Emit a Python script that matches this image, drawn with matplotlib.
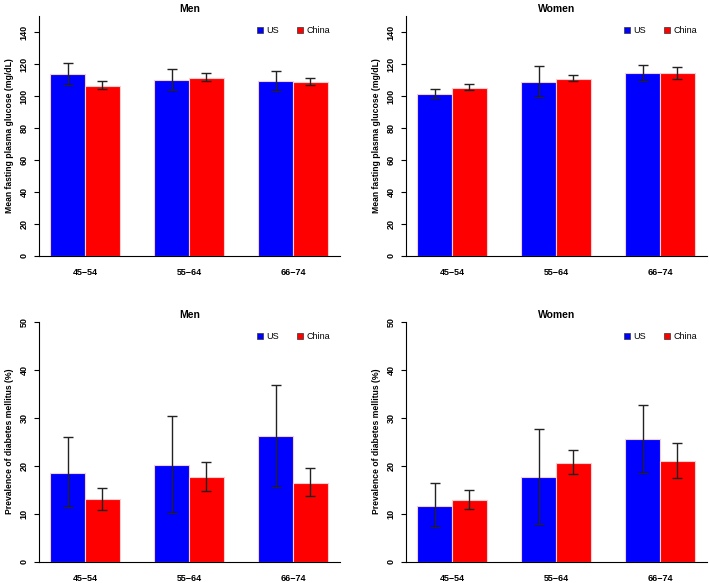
import matplotlib
matplotlib.use('Agg')
import matplotlib.pyplot as plt
import numpy as np

plt.rcParams['font.family'] = ['Liberation Sans', 'DejaVu Sans']
plt.rcParams['font.weight'] = 'bold'

ages = ['45\u221254', '55\u221264', '66\u221274']
countries = ['US', 'China']

# fasting plasma glucose (mg/dL): mean, lower, upper
glu_men_us = [113.5, 110.0, 109.4]
glu_men_us_lo = [106.9, 104.0, 103.3]
glu_men_us_hi = [120.6, 116.9, 115.6]
glu_men_cn = [106.5, 111.3, 108.8]
glu_men_cn_lo = [104.6, 109.2, 107.1]
glu_men_cn_hi = [109.4, 114.4, 111.0]

glu_women_us = [101.5, 109.0, 114.4]
glu_women_us_lo = [99.0, 99.4, 109.6]
glu_women_us_hi = [104.4, 118.8, 119.4]
glu_women_cn = [105.2, 110.8, 114.2]
glu_women_cn_lo = [104.0, 109.4, 110.4]
glu_women_cn_hi = [107.3, 113.1, 118.1]

# diabetes prevalence (%)
dm_men_us = [18.5, 20.1, 26.1]
dm_men_us_lo = [11.5, 10.1, 15.6]
dm_men_us_hi = [25.9, 30.3, 36.9]
dm_men_cn = [13.0, 17.6, 16.5]
dm_men_cn_lo = [10.8, 14.7, 13.7]
dm_men_cn_hi = [15.4, 20.8, 19.6]

dm_women_us = [11.7, 17.6, 25.5]
dm_women_us_lo = [7.2, 7.8, 18.5]
dm_women_us_hi = [16.3, 27.7, 32.7]
dm_women_cn = [12.9, 20.6, 20.9]
dm_women_cn_lo = [11.0, 18.2, 17.4]
dm_women_cn_hi = [15.0, 23.3, 24.8]

colors = ['#0000FF', '#FF0000']

fig = plt.figure(figsize=(7.09, 5.83), dpi=100)

panels = [
    ([0.055, 0.5609, 0.4245, 0.4117], 'Men', 'Mean fasting plasma glucose (mg/dL)',
     150, [0, 20, 40, 60, 80, 100, 120, 140],
     [(glu_men_us, glu_men_us_lo, glu_men_us_hi), (glu_men_cn, glu_men_cn_lo, glu_men_cn_hi)]),
    ([0.5726, 0.5609, 0.4245, 0.4117], 'Women', 'Mean fasting plasma glucose (mg/dL)',
     150, [0, 20, 40, 60, 80, 100, 120, 140],
     [(glu_women_us, glu_women_us_lo, glu_women_us_hi), (glu_women_cn, glu_women_cn_lo, glu_women_cn_hi)]),
    ([0.055, 0.0365, 0.4245, 0.4117], 'Men', 'Prevalence of diabetes mellitus (%)',
     50, [0, 10, 20, 30, 40, 50],
     [(dm_men_us, dm_men_us_lo, dm_men_us_hi), (dm_men_cn, dm_men_cn_lo, dm_men_cn_hi)]),
    ([0.5726, 0.0365, 0.4245, 0.4117], 'Women', 'Prevalence of diabetes mellitus (%)',
     50, [0, 10, 20, 30, 40, 50],
     [(dm_women_us, dm_women_us_lo, dm_women_us_hi), (dm_women_cn, dm_women_cn_lo, dm_women_cn_hi)]),
]

x = np.arange(len(ages)) * 3.0
for rect, title, ylabel, ymax, ticks, series in panels:
    ax = fig.add_axes(rect)
    for i, (vals, lo, hi) in enumerate(series):
        pos = x + (i - 0.5)
        vals = np.array(vals)
        yerr = [vals - np.array(lo), np.array(hi) - vals]
        ax.bar(pos, vals, width=1.0, color=colors[i], edgecolor='#f4d0d0', linewidth=0.8,
               label=countries[i], zorder=2)
        ax.errorbar(pos, vals, yerr=yerr, fmt='none', ecolor='#222222', elinewidth=1.0,
                    capsize=3.5, capthick=1.0, zorder=3)
    ax.set_xlim(x[0] - 1.33, x[-1] + 1.35)
    ax.set_ylim(0, ymax)
    ax.set_yticks(ticks)
    ax.set_yticklabels([str(t) for t in ticks], rotation=90, va='center', fontsize=6.5)
    ax.set_xticks(x)
    ax.set_xticklabels(ages, fontsize=6.5)
    ax.tick_params(axis='x', length=0, pad=9)
    ax.tick_params(axis='y', length=3.5, width=0.8, pad=4)
    ax.spines['top'].set_visible(False)
    ax.spines['right'].set_visible(False)
    ax.spines['left'].set_linewidth(0.8)
    ax.spines['bottom'].set_linewidth(0.8)
    ax.set_title(title, fontsize=7.5, fontweight='bold', pad=3)
    ax.set_ylabel(ylabel, fontsize=6.2, fontweight='bold', labelpad=4)
    handles = [plt.Line2D([], [], marker='s', linestyle='none', markersize=5,
                          markerfacecolor=c, markeredgecolor='#333333', markeredgewidth=0.5)
               for c in colors]
    leg = ax.legend(handles, countries, loc='upper right', bbox_to_anchor=(0.995, 0.99),
                    ncol=2, frameon=False, fontsize=6.5, handletextpad=0.2,
                    columnspacing=1.9, handlelength=1.0)
    for t in leg.get_texts():
        t.set_fontweight('normal')

fig.savefig('out.png', dpi=100)
